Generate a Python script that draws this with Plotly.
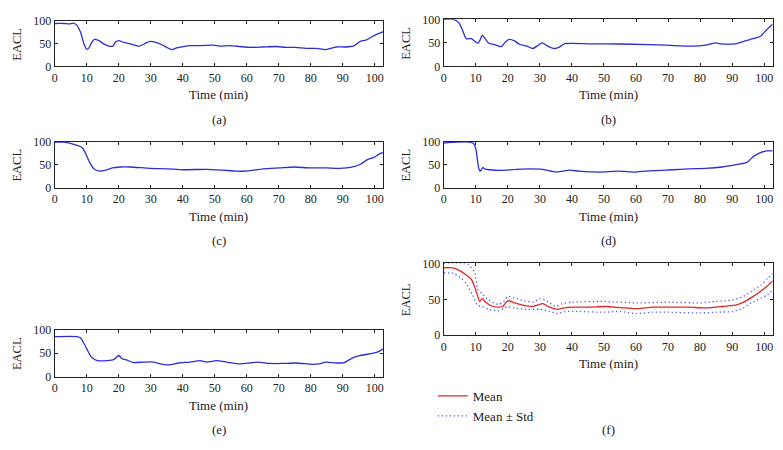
import plotly.graph_objects as go

# ---------------- data ----------------
t_a = [0, 2.9, 4.5, 5.8, 6.8, 8.1, 9.1, 10, 10.7, 11.7, 12.5, 13.8, 15.3, 16.9, 18.2, 19, 20,
       21.6, 23.6, 26.5, 28.3, 29.5, 31.4, 33.5, 35, 36.6, 38.1, 40.2, 42.3, 45.4, 49.5, 51.6,
       54.7, 57.8, 61, 65, 69.2, 72.3, 75.4, 78.5, 81.7, 84.8, 87.9, 91, 93.6, 95.6, 97.2,
       98.8, 100.3, 102.7]
v_a = [95, 95, 94, 96, 92, 75, 50, 38, 41, 55, 60, 57, 50, 45, 45, 54, 57,
       53, 50, 45, 51, 55, 54, 48, 42, 37, 41, 44, 46, 46, 47, 45,
       46, 44, 42, 43, 44, 42, 42, 40, 40, 37, 43, 43, 46, 56, 58,
       64, 70, 77]

t_b = [0, 3, 4.8, 5.8, 7, 8.6, 9.6, 10.7, 11.4, 12, 12.7, 14.1, 15.9, 18, 19, 20.2, 22.1,
       23.6, 25.9, 27.8, 29.3, 30.7, 32.4, 34.5, 36.1, 37.6, 45.4, 50.6, 58.9, 69.2, 77.5,
       81.7, 84.8, 86.3, 91, 93.1, 95.6, 98.8, 100.8, 102.7]
v_b = [100, 100, 92, 78, 59, 59, 54, 49, 57, 66, 61, 49, 46, 42, 50, 57, 54,
       47, 43, 38, 44, 50, 43, 38, 41, 48, 48, 48, 47, 45, 43,
       45, 50, 48, 48, 52, 57, 64, 78, 90]

t_c = [0, 2.9, 6, 8.6, 9.6, 11, 12.4, 14.1, 15.9, 18, 20.5, 23.6, 29.8, 35, 40.2, 47.5,
       52.6, 56.8, 59.9, 65.1, 70.3, 74.9, 79.6, 84.8, 88.9, 93.1, 95.6, 97.7, 99.8, 101.3,
       102.7]
v_c = [99, 99, 94, 87, 75, 54, 40, 36, 38, 43, 45, 45, 42, 41, 39, 40,
       38, 36, 36, 41, 43, 45, 43, 43, 42, 45, 51, 61, 66, 73,
       76]

t_d = [0, 3.9, 8.1, 9.3, 10, 10.5, 11, 11.4, 11.8, 12.2, 12.7, 14.3, 19.5, 22.6, 26.7,
       30.9, 35, 37.1, 39.2, 42.3, 48.5, 54.7, 59.9, 65.1, 71.3, 76.5, 81.7, 86.9, 92,
       94.6, 96.7, 98.8, 100.8, 102.7]
v_d = [97, 99, 99, 96, 85, 61, 40, 36, 40, 44, 41, 39, 38, 40, 41,
       40, 34, 36, 38, 36, 34, 36, 34, 37, 39, 41, 42, 45, 51,
       55, 68, 76, 80, 80]

t_e = [0, 7, 8.1, 9.1, 10.4, 11.4, 13.3, 16.4, 18.4, 20, 21, 22.6, 24.5, 27.8, 30.9, 33,
       35.5, 38.7, 42.3, 45.4, 47.5, 50.6, 53.7, 57.8, 61, 63.5, 67.2, 71.3, 75.4, 80.6,
       82.7, 84.8, 87.9, 90.5, 93.1, 95.6, 98.8, 100.8, 102.7]
v_e = [85, 85, 82, 71, 54, 42, 34, 34, 36, 45, 38, 35, 30, 31, 31, 27,
       25, 29, 31, 34, 31, 34, 31, 27, 29, 31, 28, 28, 29, 26,
       27, 31, 29, 30, 40, 45, 49, 52, 59]

t_mean = [0, 2.9, 5, 7, 8.6, 9.6, 10.5, 11.2, 12, 13.1, 14.8, 16.9, 18.4, 19.5, 20.2, 22.1,
          24.7, 27.8, 29.3, 30.9, 33, 35.5, 37.6, 40.2, 45.4, 50.6, 55.8, 60.4, 65.1, 71.3,
          76.5, 81.7, 86.9, 91, 93.6, 96.2, 98.8, 100.8, 102.7]
v_mean = [94, 94, 90, 84, 78, 68, 56, 47, 51, 46, 41, 39, 40, 46, 48, 45,
          42, 40, 42, 44, 39, 36, 38, 39, 39, 40, 38, 37, 39, 39,
          39, 38, 40, 42, 46, 53, 61, 68, 76]

t_up = [0, 3, 6, 7.5, 9.6, 10.7, 12, 14, 17, 19, 20, 22, 25, 28, 30, 32, 35, 37, 40, 50,
        60, 70, 80, 85, 90, 93, 96, 99, 101, 102.7]
v_up = [100, 100, 100, 99, 88, 63, 58, 49, 43, 48, 54, 52, 48, 46, 51, 48, 40, 44, 46, 47,
        45, 46, 45, 47, 49, 53, 61, 70, 79, 86]

t_lo = [0, 3, 5, 7, 9, 10.5, 12, 14, 17, 19, 20, 22, 25, 30, 33, 35.5, 38, 42, 50, 55,
        60, 65, 70, 80, 85, 90, 93, 96, 99, 101, 102.7]
v_lo = [87, 86, 81, 72, 56, 42, 40, 36, 34, 38, 40, 38, 36, 36, 33, 30, 33, 33, 32, 33,
        30, 32, 32, 31, 32, 33, 37, 45, 52, 56, 63]

x_ticks = [0, 10, 20, 30, 40, 50, 60, 70, 80, 90, 100]
y_ticks = [0, 50, 100]
panel_labels = ["(a)", "(b)", "(c)", "(d)", "(e)", "(f)"]
x_title = "Time (min)"
y_title = "EACL"

# ---------------- layout helpers ----------------
W, H = 783, 450
FONT = "Liberation Serif, Times New Roman, serif"
BLUE = "rgb(45,45,215)"
RED = "rgb(225,40,40)"
DOT = "rgb(90,90,235)"

# pixel boxes: (left, right, top, bottom)
boxes = [
    (52, 382, 14.7, 61.3),
    (443, 773.5, 12.7, 61.3),
    (52, 382, 139, 186.5),
    (443, 773.5, 139, 186.5),
    (52, 382, 333, 381.5),
    (443, 773.5, 264.7, 338.7),
]

fig = go.Figure()

series = [(t_a, v_a), (t_b, v_b), (t_c, v_c), (t_d, v_d), (t_e, v_e)]
for i, (t, v) in enumerate(series):
    n = "" if i == 0 else str(i + 1)
    fig.add_trace(go.Scatter(x=t, y=v, mode="lines", xaxis="x" + n, yaxis="y" + n,
                             line=dict(color=BLUE, width=1.3, shape="spline", smoothing=0.6),
                             showlegend=False, hoverinfo="skip"))

fig.add_trace(go.Scatter(x=t_mean, y=v_mean, mode="lines", xaxis="x6", yaxis="y6", name="Mean",
                         line=dict(color=RED, width=1.3, shape="spline", smoothing=0.6)))
fig.add_trace(go.Scatter(x=t_up, y=v_up, mode="lines", xaxis="x6", yaxis="y6", name="Mean ± Std",
                         legendgroup="std",
                         line=dict(color=DOT, width=1.3, dash="1.3px,2.7px", shape="spline",
                                   smoothing=0.6)))
fig.add_trace(go.Scatter(x=t_lo, y=v_lo, mode="lines", xaxis="x6", yaxis="y6", name="Mean ± Std",
                         legendgroup="std", showlegend=False,
                         line=dict(color=DOT, width=1.3, dash="1.3px,2.7px", shape="spline",
                                   smoothing=0.6)))

annotations = []
layout = {}
for i, (l, r, t, b) in enumerate(boxes):
    n = "" if i == 0 else str(i + 1)
    xd = [l / W, r / W]
    yd = [1 - b / H, 1 - t / H]
    common = dict(showline=True, mirror="ticks", linecolor="#222", linewidth=1,
                  ticks="inside", ticklen=3, tickcolor="#222", showgrid=False, zeroline=False,
                  tickfont=dict(family=FONT, size=12, color="#222"))
    layout["xaxis" + n] = dict(domain=xd, range=[0, 102.6], tickvals=x_ticks, anchor="y" + n,
                               **common)
    layout["yaxis" + n] = dict(domain=yd, range=[0, 100], tickvals=y_ticks, anchor="x" + n,
                               **common)
    cx = (l + r) / 2 / W
    annotations.append(dict(text=x_title, x=cx, y=1 - (b + 29.5) / H, xref="paper", yref="paper",
                            showarrow=False, font=dict(family=FONT, size=13, color="#222"),
                            xanchor="center", yanchor="middle"))
    annotations.append(dict(text=y_title, x=(l - 38) / W, y=1 - (t + b) / 2 / H, xref="paper",
                            yref="paper", textangle=-90, showarrow=False,
                            font=dict(family=FONT, size=12.5, color="#222"),
                            xanchor="center", yanchor="middle"))
    ly = b + 55 if i < 5 else 436
    annotations.append(dict(text=panel_labels[i], x=cx, y=1 - ly / H, xref="paper", yref="paper",
                            showarrow=False, font=dict(family=FONT, size=13, color="#222"),
                            xanchor="center", yanchor="middle"))

fig.update_layout(
    width=W, height=H, margin=dict(l=0, r=0, t=0, b=0),
    paper_bgcolor="white", plot_bgcolor="white",
    annotations=annotations,
    showlegend=True,
    legend=dict(x=432 / W, y=1 - 386 / H, xanchor="left", yanchor="top",
                font=dict(family=FONT, size=13, color="#222"), bgcolor="rgba(0,0,0,0)",
                tracegroupgap=0, itemwidth=30),
    **layout,
)

fig.write_html("out.html",
               config={"displayModeBar": False},
               post_script="document.body.style.margin='0';document.body.style.padding='0';"
                           "document.body.style.overflow='hidden';")
